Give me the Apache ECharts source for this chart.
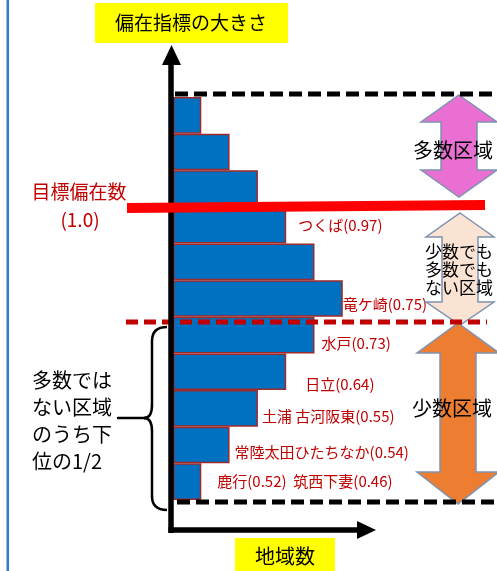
<!DOCTYPE html>
<html>
<head>
<meta charset="utf-8">
<script src="https://cdn.jsdelivr.net/npm/echarts@6/dist/echarts.min.js"></script>
<style>
html,body{margin:0;padding:0;background:#fff;}
#c{width:497px;height:571px;}
</style>
</head>
<body>
<div id="c"></div>
<script>
// ---- data ----
var bins = ['1','2','3','4','5','6','7','8','9','10','11'];
var regionCounts = [1, 2, 3, 4, 5, 6, 5, 4, 3, 2, 1];
var barLabels = ['', '', '', 'つくば(0.97)', '', '竜ケ崎(0.75)', '水戸(0.73)', '日立(0.64)', '土浦 古河阪東(0.55)', '常陸太田ひたちなか(0.54)', '鹿行(0.52)  筑西下妻(0.46)'];
var yAxisTitle = '偏在指標の大きさ';
var xAxisTitle = '地域数';
var targetLabel = ['目標偏在数', '(1.0)'];
var zoneLabels = ['多数区域', '少数でも\n多数でも\nない区域', '少数区域'];
var bracketLabel = '多数では\nない区域\nのうち下\n位の1/2';

// ---- label placement (style, not data) ----
var labelOffsets = [[0,0],[0,0],[0,0],[12,0],[0,0],[0,6],[7,8],[19,13],[4,8],[5,7],[16,0]];

var FONT = '"Noto Sans CJK JP", "Noto Sans", sans-serif';
var chart = echarts.init(document.getElementById('c'));

var barData = regionCounts.map(function (v, i) {
  return {
    value: v,
    label: {
      show: barLabels[i] !== '',
      position: 'right',
      distance: 0,
      offset: labelOffsets[i],
      formatter: function () { return barLabels[i]; },
      color: '#C00000',
      fontSize: 15,
      fontFamily: FONT
    }
  };
});

function dblArrow(cx, top, bottom, headHalf, shaftHalf, headTop, headBot, fill) {
  return {
    type: 'polygon',
    z: 50,
    shape: {
      points: [
        [cx, top],
        [cx + headHalf, top + headTop],
        [cx + shaftHalf, top + headTop],
        [cx + shaftHalf, bottom - headBot],
        [cx + headHalf, bottom - headBot],
        [cx, bottom],
        [cx - headHalf, bottom - headBot],
        [cx - shaftHalf, bottom - headBot],
        [cx - shaftHalf, top + headTop],
        [cx - headHalf, top + headTop]
      ]
    },
    style: { fill: fill, stroke: '#7F93B0', lineWidth: 1.5 }
  };
}

function txt(t, x, y, size, color, align, lh, z) {
  return {
    type: 'text', z: z || 120,
    style: {
      text: t, x: x, y: y, fill: color, fontSize: size, fontFamily: FONT,
      align: align || 'center', verticalAlign: 'middle', lineHeight: lh || size * 1.2
    }
  };
}
function seg(x1, y1, x2, y2) {
  return { type: 'line', z: 100, shape: { x1: x1, y1: y1, x2: x2, y2: y2 }, style: { stroke: '#000', lineWidth: 2.5, lineCap: 'round' } };
}
function curve(x1, y1, cx, cy, x2, y2) {
  return { type: 'bezierCurve', z: 100, shape: { x1: x1, y1: y1, cpx1: cx, cpy1: cy, x2: x2, y2: y2 }, style: { stroke: '#000', lineWidth: 2.5, fill: null } };
}

var graphics = [
  // left blue frame line
  { type: 'rect', z: 1, shape: { x: 6.5, y: 0, width: 2.5, height: 571 }, style: { fill: '#2E7BD3' } },
  // top yellow label
  { type: 'rect', z: 100, shape: { x: 95, y: 3, width: 193, height: 40 }, style: { fill: '#FFFF00' } },
  txt(yAxisTitle, 191, 23, 19, '#000'),
  // bottom yellow label
  { type: 'rect', z: 100, shape: { x: 235, y: 538, width: 100, height: 40 }, style: { fill: '#FFFF00' } },
  txt(xAxisTitle, 285, 556, 20, '#000'),
  // arrows on right
  dblArrow(459, 95, 197, 38, 18, 27, 27, '#E96FD2'),
  dblArrow(460, 213, 325, 34, 18, 24, 23, '#FBE3D3'),
  dblArrow(458, 323, 504, 41, 18, 30, 32, '#ED7D31'),
  txt(zoneLabels[0], 453, 150, 20, '#000'),
  txt(zoneLabels[1], 459, 270, 17, '#000', 'center', 18),
  txt(zoneLabels[2], 452, 408, 20, '#000'),
  // dashed boundaries
  { type: 'line', z: 90, shape: { x1: 175, y1: 94, x2: 497, y2: 94 }, style: { stroke: '#000', lineWidth: 5, lineDash: [13, 6] } },
  { type: 'line', z: 90, shape: { x1: 177, y1: 502, x2: 497, y2: 502 }, style: { stroke: '#000', lineWidth: 5, lineDash: [13, 6] } },
  { type: 'line', z: 90, shape: { x1: 126, y1: 322, x2: 487, y2: 322 }, style: { stroke: '#C00000', lineWidth: 5, lineDash: [12, 6] } },
  // axes
  { type: 'line', z: 95, shape: { x1: 171, y1: 533, x2: 171, y2: 60 }, style: { stroke: '#000', lineWidth: 5.5 } },
  { type: 'polygon', z: 95, shape: { points: [[171.5, 45], [162, 65], [181, 65]] }, style: { fill: '#000' } },
  { type: 'line', z: 95, shape: { x1: 168.5, y1: 530, x2: 360, y2: 530 }, style: { stroke: '#000', lineWidth: 5.5 } },
  { type: 'polygon', z: 95, shape: { points: [[376, 530], [357, 521], [357, 539]] }, style: { fill: '#000' } },
  // target line
  { type: 'polygon', z: 110, shape: { points: [[127, 203], [485, 200], [485, 210], [127, 213]] }, style: { fill: '#FF0000' } },
  txt(targetLabel[0], 79, 192, 19, '#C00000'),
  txt(targetLabel[1], 80, 220, 19, '#C00000'),
  // bracket
  curve(167, 327, 152, 327, 152, 341),
  seg(152, 341, 152, 405),
  curve(152, 405, 152, 418, 144, 418),
  curve(144, 418, 152, 418, 152, 431),
  seg(152, 431, 152, 496),
  curve(152, 496, 152, 510, 167, 510),
  seg(118, 418, 145, 418),
  txt(bracketLabel, 32, 421, 20, '#000', 'left', 27)
];

chart.setOption({
  animation: false,
  backgroundColor: '#fff',
  grid: { left: 173, top: 97, width: 283, height: 403 },
  xAxis: { type: 'value', min: 0, max: 10, show: false },
  yAxis: { type: 'category', data: bins, inverse: true, show: false },
  series: [{
    type: 'bar',
    data: barData,
    barWidth: '100%',
    z: 5,
    itemStyle: { color: '#0070C0', borderColor: '#9E2A2B', borderWidth: 1.5 }
  }],
  graphic: graphics
});
</script>
</body>
</html>
